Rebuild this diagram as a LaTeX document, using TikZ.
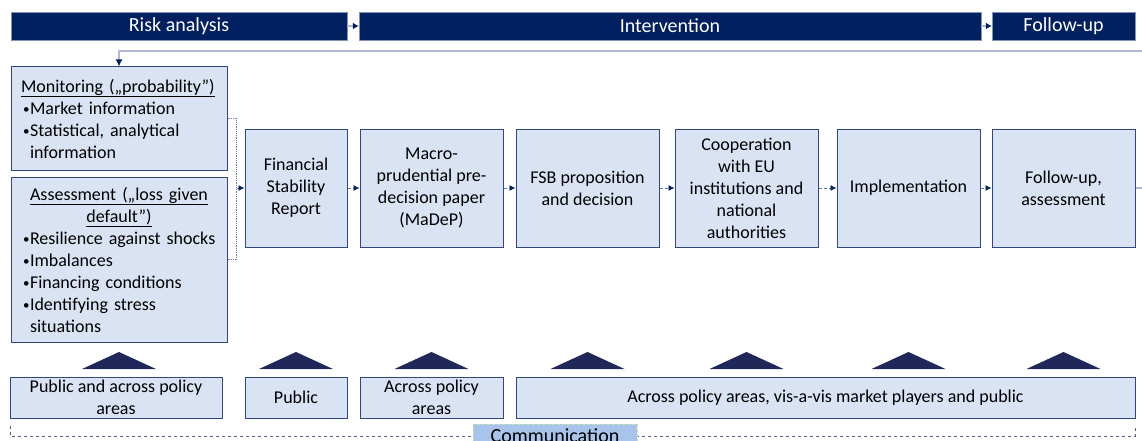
\documentclass[tikz,border=0pt]{standalone}
\usepackage{fontspec}
\setmainfont{Carlito}
\usetikzlibrary{arrows.meta}

\definecolor{navy}{RGB}{0,32,96}
\definecolor{tri}{RGB}{32,40,90}
\definecolor{boxfill}{RGB}{218,227,243}
\definecolor{boxline}{RGB}{47,72,130}
\definecolor{flowline}{RGB}{110,122,165}
\definecolor{backline}{RGB}{176,186,212}
\definecolor{commfill}{RGB}{169,196,235}
\definecolor{commedge}{RGB}{197,224,180}
\definecolor{frameline}{RGB}{84,96,130}

% no hyphenation inside the boxes
\hyphenpenalty=10000
\exhyphenpenalty=10000

% bullet line, wrapped text hangs under the first word
\newcommand{\itm}[1]{\par\noindent
  \hbox to 9pt{\hskip2pt\raisebox{1pt}{\fontsize{13}{13}\selectfont\textbullet}\hss}%
  \parbox[t]{187pt}{\raggedright #1}}

\begin{document}
\begin{tikzpicture}[x=1pt,y=-1pt,
  hdr/.style={fill=navy, draw=boxline!60, text=white, inner sep=0pt,
    minimum height=28pt, font=\fontsize{20}{24}\selectfont},
  box/.style={fill=boxfill, draw=boxline, line width=1pt, inner sep=0pt,
    align=center, font=\fontsize{18}{22}\selectfont},
  listbox/.style={box, align=left, text width=196pt},
  flow/.style={densely dashed, flowline, line width=0.8pt,
    -{Latex[length=6pt,width=6pt,color=navy,sep=0pt]}},
  hdrarrow/.style={backline, line width=1.2pt,
    -{Latex[length=6pt,width=7pt,color=navy]}},
  back/.style={backline, line width=1.5pt,
    -{Latex[length=7pt,width=7pt,color=navy]}},
  bracket/.style={densely dotted, flowline, line width=0.8pt},
  commline/.style={dashed, frameline, line width=0.8pt},
  commlabel/.style={fill=commfill, draw=commedge, densely dashed, inner sep=0pt,
    minimum width=164pt, minimum height=24pt, font=\fontsize{20}{24}\selectfont}]
\useasboundingbox (0,0) rectangle (1142,441);
\clip (0,0) rectangle (1142,441);

% phase headers
\node [hdr, minimum width=336pt] (ra) at (179,26) {Risk analysis};
\node [hdr, minimum width=622pt] (iv) at (670,26) {Intervention};
\node [hdr, minimum width=143pt] (fuh) at (1063.5,26) {Follow-up};
\draw [hdrarrow] (ra.east) -- (iv.west);
\draw [hdrarrow] (iv.east) -- (fuh.west);

% risk analysis inputs
\node [listbox, minimum width=216pt, minimum height=103pt] (mon) at (119,118.5)
  {\underline{Monitoring („probability”)}\itm{Market information}\itm{Statistical, analytical information}};
\node [listbox, minimum width=216pt, minimum height=165pt] (ass) at (119,259.5)
  {{\centering\underline{Assessment („loss given}\par\underline{default”)}\par}%
   \itm{Resilience against shocks}\itm{Imbalances}\itm{Financing conditions}\itm{Identifying stress situations}};

% process steps
\node [box, minimum width=102pt, minimum height=118pt] (fsr) at (296,188) {Financial\\Stability\\Report};
\node [box, minimum width=143pt, minimum height=118pt] (madep) at (431.5,188) {Macro-\\prudential pre-\\decision paper\\(MaDeP)};
\node [box, minimum width=143pt, minimum height=118pt] (fsb) at (587.5,188) {FSB proposition\\and decision};
\node [box, minimum width=143pt, minimum height=118pt] (coop) at (746.5,188) {Cooperation\\with EU\\institutions and\\national\\authorities};
\node [box, minimum width=143pt, minimum height=118pt] (impl) at (908.5,188) {Implementation};
\node [box, minimum width=143pt, minimum height=118pt] (fu) at (1063.5,188) {Follow-up,\\assessment};

\draw [bracket] (mon.east) -- ++(9,0) coordinate (brk) |- (ass.east);
\draw [flow] (brk |- fsr.west) -- (fsr.west);
\foreach \a/\b in {fsr/madep, madep/fsb, fsb/coop, coop/impl, impl/fu}
  \draw [flow] (\a.east) -- (\b.west);

% loop back to monitoring
\coordinate (ret) at (1152,51);
\draw [back] (fu.east) -| (ret) -| (mon.north);

% communication
\foreach \cx in {119,296,431.5,587.5,746.5,908.5,1063.5}
  \fill [tri] (\cx-37,369) -- (\cx,352) -- (\cx+37,369) -- cycle;
\node [box, minimum width=212pt, minimum height=41pt] (pa) at (116,397.5) {Public and across policy\\areas};
\node [box, minimum width=102pt, minimum height=41pt] (pub) at (296,397.5) {Public};
\node [box, minimum width=143pt, minimum height=41pt] (acr) at (431.5,397.5) {Across policy\\areas};
\node [box, minimum width=619pt, minimum height=41pt] (all) at (825.5,397.5) {Across policy areas, vis-a-vis market players and public};
\draw [commline] (10,426) -- (10,436) -| (1135,425);
\node [commlabel] (comm) at (555,436) {Communication};
\end{tikzpicture}
\end{document}
